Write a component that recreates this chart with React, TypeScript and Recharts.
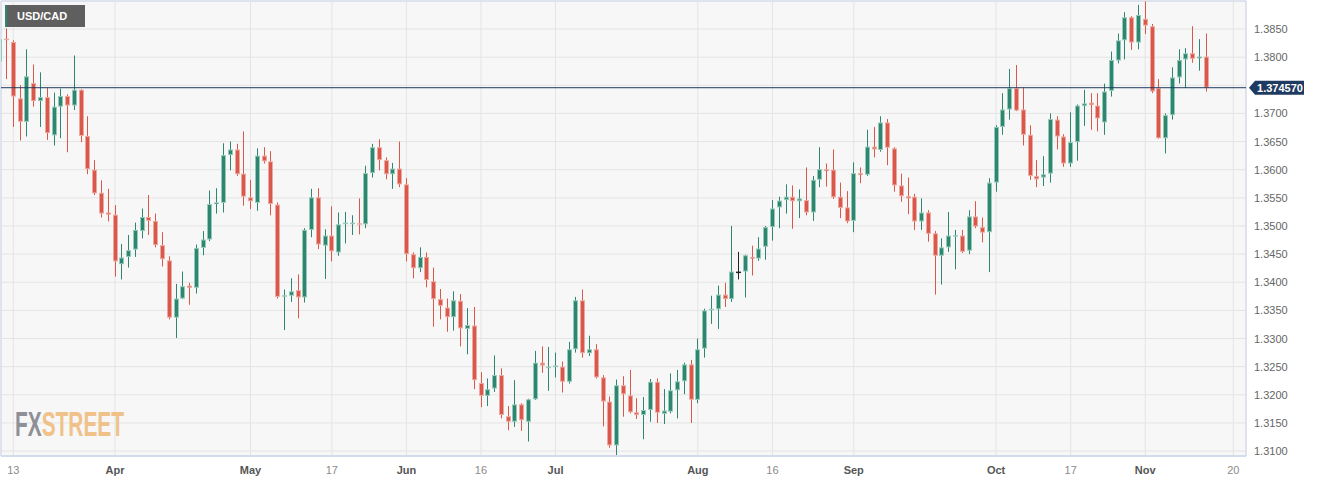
import React from 'react'
import {
  ComposedChart,
  Bar,
  XAxis,
  YAxis,
  CartesianGrid,
  ReferenceLine,
  ReferenceArea,
} from 'recharts'

// weekday index of the first candle, counted from Mon Mar 13 (= 0)
const FIRST_INDEX = -2

const opens = [
  1.3792, 1.3832, 1.3827, 1.3727, 1.3685, 1.3754, 1.3722, 1.3729, 1.3661, 1.3712,
  1.3731, 1.3714, 1.3742, 1.3660, 1.3600, 1.3559, 1.3524, 1.3520, 1.3432, 1.3445,
  1.3458, 1.3491, 1.3516, 1.3509, 1.3466, 1.3439, 1.3337, 1.3371, 1.3394, 1.3390,
  1.3461, 1.3476, 1.3539, 1.3541, 1.3626, 1.3636, 1.3593, 1.3551, 1.3541, 1.3625,
  1.3615, 1.3538, 1.3375, 1.3376, 1.3386, 1.3373, 1.3493, 1.3551, 1.3465, 1.3483,
  1.3453, 1.3503, 1.3504, 1.3504, 1.3503, 1.3594, 1.3640, 1.3617, 1.3592, 1.3602,
  1.3574, 1.3450, 1.3425, 1.3445, 1.3402, 1.3370, 1.3355, 1.3338, 1.3367, 1.3317,
  1.3323, 1.3221, 1.3198, 1.3211, 1.3235, 1.3162, 1.3152, 1.3183, 1.3152, 1.3192,
  1.3257, 1.3248, 1.3250, 1.3250, 1.3223, 1.3281, 1.3368, 1.3274, 1.3281, 1.3231,
  1.3188, 1.3110, 1.3217, 1.3199, 1.3169, 1.3164, 1.3173, 1.3223, 1.3166, 1.3170,
  1.3208, 1.3224, 1.3254, 1.3191, 1.3282, 1.3350, 1.3352, 1.3378, 1.3370, 1.3418,
  1.3419, 1.3445, 1.3442, 1.3463, 1.3498, 1.3533, 1.3546, 1.3552, 1.3544, 1.3546,
  1.3524, 1.3582, 1.3601, 1.3600, 1.3552, 1.3533, 1.3509, 1.3594, 1.3591, 1.3641,
  1.3635, 1.3684, 1.3638, 1.3572, 1.3553, 1.3552, 1.3508, 1.3524, 1.3487, 1.3447,
  1.3462, 1.3481, 1.3483, 1.3456, 1.3517, 1.3498, 1.3489, 1.3577, 1.3676, 1.3707,
  1.3745, 1.3707, 1.3662, 1.3589, 1.3586, 1.3593, 1.3689, 1.3659, 1.3611, 1.3649,
  1.3713, 1.3719, 1.3714, 1.3684, 1.3740, 1.3794, 1.3830, 1.3871, 1.3826, 1.3868,
  1.3855, 1.3745, 1.3656, 1.3697, 1.3764, 1.3796, 1.3807, 1.3798, 1.3801,
]

const highs = [
  1.3856, 1.3851, 1.3830, 1.3750, 1.3814, 1.3787, 1.3773, 1.3746, 1.3737, 1.3744,
  1.3734, 1.3803, 1.3743, 1.3695, 1.3617, 1.3581, 1.3566, 1.3537, 1.3468, 1.3484,
  1.3506, 1.3531, 1.3555, 1.3522, 1.3489, 1.3446, 1.3397, 1.3419, 1.3399, 1.3467,
  1.3491, 1.3563, 1.3567, 1.3647, 1.3650, 1.3646, 1.3668, 1.3582, 1.3638, 1.3640,
  1.3633, 1.3542, 1.3387, 1.3407, 1.3414, 1.3496, 1.3566, 1.3567, 1.3494, 1.3535,
  1.3524, 1.3525, 1.3519, 1.3549, 1.3607, 1.3646, 1.3654, 1.3622, 1.3612, 1.3650,
  1.3585, 1.3453, 1.3462, 1.3453, 1.3426, 1.3388, 1.3371, 1.3384, 1.3379, 1.3354,
  1.3356, 1.3240, 1.3229, 1.3270, 1.3247, 1.3180, 1.3226, 1.3185, 1.3193, 1.3278,
  1.3286, 1.3285, 1.3275, 1.3259, 1.3294, 1.3374, 1.3387, 1.3305, 1.3290, 1.3235,
  1.3197, 1.3227, 1.3233, 1.3244, 1.3194, 1.3196, 1.3228, 1.3229, 1.3210, 1.3238,
  1.3244, 1.3257, 1.3262, 1.3300, 1.3353, 1.3376, 1.3394, 1.3399, 1.3500, 1.3454,
  1.3449, 1.3465, 1.3480, 1.3500, 1.3546, 1.3552, 1.3574, 1.3572, 1.3565, 1.3604,
  1.3589, 1.3640, 1.3611, 1.3636, 1.3577, 1.3562, 1.3613, 1.3604, 1.3671, 1.3676,
  1.3695, 1.3690, 1.3640, 1.3593, 1.3586, 1.3557, 1.3549, 1.3528, 1.3491, 1.3478,
  1.3525, 1.3493, 1.3493, 1.3528, 1.3544, 1.3515, 1.3585, 1.3679, 1.3736, 1.3779,
  1.3786, 1.3746, 1.3679, 1.3617, 1.3624, 1.3700, 1.3695, 1.3663, 1.3702, 1.3716,
  1.3742, 1.3736, 1.3736, 1.3753, 1.3810, 1.3842, 1.3880, 1.3873, 1.3893, 1.3899,
  1.3859, 1.3761, 1.3700, 1.3782, 1.3814, 1.3816, 1.3855, 1.3832, 1.3842,
]

const lows = [
  1.3753, 1.3761, 1.3676, 1.3652, 1.3659, 1.3712, 1.3676, 1.3653, 1.3643, 1.3656,
  1.3631, 1.3706, 1.3649, 1.3592, 1.3555, 1.3515, 1.3508, 1.3410, 1.3405, 1.3426,
  1.3445, 1.3478, 1.3484, 1.3462, 1.3428, 1.3334, 1.3301, 1.3370, 1.3360, 1.3380,
  1.3448, 1.3473, 1.3522, 1.3524, 1.3599, 1.3589, 1.3536, 1.3530, 1.3527, 1.3611,
  1.3519, 1.3371, 1.3315, 1.3365, 1.3336, 1.3364, 1.3480, 1.3459, 1.3406, 1.3437,
  1.3447, 1.3469, 1.3484, 1.3485, 1.3496, 1.3586, 1.3599, 1.3583, 1.3566, 1.3569,
  1.3437, 1.3407, 1.3418, 1.3391, 1.3321, 1.3334, 1.3312, 1.3314, 1.3286, 1.3272,
  1.3210, 1.3178, 1.3180, 1.3205, 1.3158, 1.3137, 1.3143, 1.3136, 1.3117, 1.3191,
  1.3239, 1.3207, 1.3231, 1.3204, 1.3220, 1.3275, 1.3266, 1.3269, 1.3229, 1.3144,
  1.3106, 1.3093, 1.3161, 1.3167, 1.3157, 1.3121, 1.3152, 1.3150, 1.3148, 1.3167,
  1.3158, 1.3201, 1.3150, 1.3185, 1.3266, 1.3326, 1.3317, 1.3356, 1.3365, 1.3405,
  1.3373, 1.3412, 1.3438, 1.3440, 1.3474, 1.3496, 1.3522, 1.3495, 1.3514, 1.3519,
  1.3509, 1.3569, 1.3570, 1.3548, 1.3514, 1.3505, 1.3489, 1.3576, 1.3589, 1.3622,
  1.3632, 1.3608, 1.3561, 1.3543, 1.3521, 1.3493, 1.3493, 1.3472, 1.3378, 1.3396,
  1.3454, 1.3423, 1.3452, 1.3450, 1.3496, 1.3471, 1.3418, 1.3561, 1.3662, 1.3689,
  1.3704, 1.3643, 1.3582, 1.3569, 1.3571, 1.3577, 1.3636, 1.3605, 1.3605, 1.3616,
  1.3678, 1.3671, 1.3668, 1.3662, 1.3730, 1.3789, 1.3796, 1.3813, 1.3814, 1.3841,
  1.3736, 1.3655, 1.3629, 1.3689, 1.3753, 1.3745, 1.3790, 1.3776, 1.3739,
]

const closes = [
  1.3832, 1.3830, 1.3730, 1.3685, 1.3766, 1.3722, 1.3729, 1.3665, 1.3712, 1.3731,
  1.3714, 1.3742, 1.3660, 1.3601, 1.3558, 1.3522, 1.3520, 1.3437, 1.3444, 1.3457,
  1.3493, 1.3516, 1.3509, 1.3466, 1.3441, 1.3337, 1.3371, 1.3393, 1.3390, 1.3461,
  1.3476, 1.3539, 1.3542, 1.3626, 1.3636, 1.3592, 1.3552, 1.3544, 1.3625, 1.3615,
  1.3539, 1.3374, 1.3376, 1.3384, 1.3373, 1.3493, 1.3551, 1.3467, 1.3483, 1.3455,
  1.3503, 1.3505, 1.3505, 1.3503, 1.3594, 1.3640, 1.3617, 1.3592, 1.3602, 1.3574,
  1.3450, 1.3425, 1.3445, 1.3404, 1.3370, 1.3358, 1.3338, 1.3368, 1.3318, 1.3324,
  1.3226, 1.3198, 1.3210, 1.3235, 1.3164, 1.3152, 1.3183, 1.3155, 1.3192, 1.3257,
  1.3252, 1.3249, 1.3251, 1.3223, 1.3281, 1.3368, 1.3274, 1.3281, 1.3231, 1.3188,
  1.3110, 1.3217, 1.3201, 1.3169, 1.3164, 1.3173, 1.3223, 1.3168, 1.3172, 1.3208,
  1.3224, 1.3254, 1.3191, 1.3281, 1.3350, 1.3352, 1.3378, 1.3370, 1.3419, 1.3418,
  1.3448, 1.3442, 1.3460, 1.3498, 1.3531, 1.3545, 1.3552, 1.3544, 1.3549, 1.3524,
  1.3582, 1.3601, 1.3598, 1.3551, 1.3532, 1.3508, 1.3594, 1.3591, 1.3641, 1.3636,
  1.3684, 1.3639, 1.3572, 1.3553, 1.3549, 1.3508, 1.3524, 1.3486, 1.3447, 1.3462,
  1.3483, 1.3483, 1.3454, 1.3517, 1.3499, 1.3488, 1.3577, 1.3676, 1.3707, 1.3745,
  1.3705, 1.3662, 1.3589, 1.3583, 1.3592, 1.3690, 1.3659, 1.3611, 1.3649, 1.3714,
  1.3718, 1.3715, 1.3691, 1.3739, 1.3795, 1.3830, 1.3871, 1.3826, 1.3875, 1.3856,
  1.3739, 1.3656, 1.3697, 1.3764, 1.3795, 1.3807, 1.3797, 1.3801, 1.37457,
]

const xTicks = [0, 15, 35, 47, 58, 69, 80, 101, 112, 124, 145, 156, 167, 180]
const xTickLabels = ['13', 'Apr', 'May', '17', 'Jun', '16', 'Jul', 'Aug', '16', 'Sep', 'Oct', '17', 'Nov', '20']
const months = ['Apr', 'May', 'Jun', 'Jul', 'Aug', 'Sep', 'Oct', 'Nov']

const yTicks = [
  1.31, 1.315, 1.32, 1.325, 1.33, 1.335, 1.34, 1.345,
  1.35, 1.355, 1.36, 1.365, 1.37, 1.375, 1.38, 1.385,
]
// this tick's text sits under the price tag, only its grid line shows
const hiddenYTick = 1.375
const lastPrice = 1.37457

const GREEN = '#2f8670'
const GREEN_LIGHT = '#93c9b7'
const RED = '#d9584a'
const RED_LIGHT = '#eda9a1'
const BORDER = '#ccd6eb'

const candles = opens.map((o, i) => ({
  k: FIRST_INDEX + i,
  open: o,
  high: highs[i],
  low: lows[i],
  close: closes[i],
}))

const Candle = (props: any) => {
  const { x, y, width, height, payload } = props
  if (x == null || y == null) return null
  const { open, close, high, low } = payload
  const flat = open === close
  const up = close > open
  const dark = flat ? '#222' : up ? GREEN : RED
  const light = flat ? '#222' : up ? GREEN_LIGHT : RED_LIGHT
  const top = Math.min(y, y + height)
  const h = Math.abs(height)
  const perUnit = h / (high - low)
  const bTop = top + (high - Math.max(open, close)) * perUnit
  const bBot = top + (high - Math.min(open, close)) * perUnit
  const cx = x + width / 2
  const left = Math.round(cx - 2.5)
  const bh = bBot - bTop
  return (
    <g>
      <rect x={Math.round(cx - 0.5)} y={top} width={1} height={h} fill={dark} />
      {bh < 1.5 ? (
        <rect x={left} y={bTop - 0.5} width={5} height={1.5} fill={light} />
      ) : (
        <>
          <rect x={left} y={bTop} width={5} height={bh} fill={light} />
          <rect x={left + 1} y={bTop + 1} width={3} height={Math.max(bh - 2, 0.5)} fill={dark} />
        </>
      )}
    </g>
  )
}

const XTick = ({ x, y, payload }: any) => {
  const label = xTickLabels[xTicks.indexOf(payload.value)]
  const isMonth = months.includes(label)
  return (
    <text x={x} y={y + 10} textAnchor="middle" fontSize={11} fill={isMonth ? '#555' : '#8a8a8a'} fontWeight={isMonth ? 'bold' : 'normal'}>
      {label}
    </text>
  )
}

const YTick = ({ x, y, payload }: any) => {
  if (payload.value === hiddenYTick) return <g />
  return (
    <text x={x} y={y + 4} textAnchor="start" fontSize={11} fill="#666">
      {payload.value.toFixed(4)}
    </text>
  )
}

const PriceTag = (props: any) => {
  const vb = props.viewBox || {}
  const x = (vb.x || 0) + (vb.width || 0) + 3
  const y = vb.y || 0
  return (
    <g>
      <path d={`M${x},${y} L${x + 6},${y - 7} H${x + 55} V${y + 7} H${x + 6} Z`} fill="#1f3a60" />
      <text x={x + 31} y={y + 4} textAnchor="middle" fill="#fff" fontSize={11} fontWeight="bold">
        {lastPrice.toFixed(6)}
      </text>
    </g>
  )
}

export default function App() {
  return (
    <div style={{ position: 'relative', width: 1323, height: 482, background: '#fff', fontFamily: '"Liberation Sans", Arial, sans-serif' }}>
      <style>{`body{margin:0}`}</style>
      <ComposedChart width={1323} height={482} data={candles} margin={{ top: 1, right: 0, bottom: 0, left: 1 }}>
        <CartesianGrid stroke="#e4e4e4" fill="#f7f7f7" />
        <XAxis
          type="number"
          dataKey="k"
          domain={[-1.815, 181.87]}
          allowDataOverflow
          ticks={xTicks}
          interval={0}
          tick={<XTick />}
          tickLine={false}
          axisLine={{ stroke: BORDER }}
          height={26}
        />
        <YAxis
          orientation="right"
          domain={[1.30912, 1.38998]}
          allowDataOverflow
          ticks={yTicks}
          interval={0}
          tick={<YTick />}
          tickLine={false}
          axisLine={false}
          width={77}
        />
        <ReferenceArea x1={-1.815} x2={181.87} y1={1.30912} y2={1.38998} fill="none" stroke={BORDER} />
        <Bar dataKey={(d: any) => [d.low, d.high]} barSize={5} shape={<Candle />} isAnimationActive={false} />
        <ReferenceLine y={lastPrice} stroke="#1f3a60" strokeWidth={1} label={<PriceTag />} />
      </ComposedChart>
      <div style={{ position: 'absolute', left: 5, top: 5, width: 2, height: 22, background: GREEN }} />
      <div style={{ position: 'absolute', left: 7, top: 5, width: 78, height: 22, background: '#5f5f5f', color: '#fff', fontSize: 11, fontWeight: 'bold', lineHeight: '22px', paddingLeft: 10, boxSizing: 'border-box' }}>
        USD/CAD
      </div>
      <svg style={{ position: 'absolute', left: 0, top: 400 }} width={200} height={45}>
        <text x={15} y={36} fontFamily='"Liberation Sans Narrow", "Liberation Sans", sans-serif' fontWeight="bold" fontSize={35} textLength={109} lengthAdjust="spacingAndGlyphs">
          <tspan fill="#8e9098">FX</tspan>
          <tspan fill="#f0c28a">STREET</tspan>
        </text>
      </svg>
    </div>
  )
}
